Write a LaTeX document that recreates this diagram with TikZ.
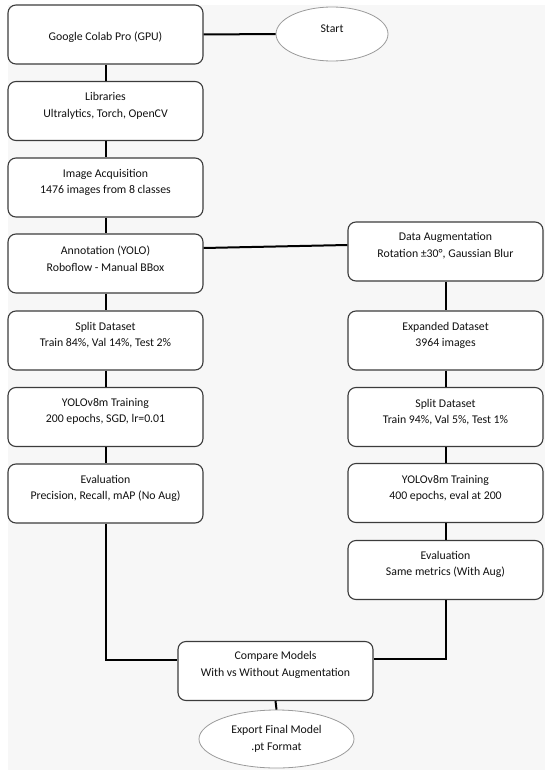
\documentclass[tikz,border=0pt]{standalone}
\usepackage{fontspec}
\setmainfont{Carlito}
\usetikzlibrary{shapes.geometric}
\definecolor{bgcol}{HTML}{F7F7F7}
\definecolor{boxgray}{HTML}{3C3C3C}
\definecolor{ovalgray}{HTML}{9A9A9A}
\definecolor{txtcol}{HTML}{111111}
\tikzset{
  box/.style={draw=boxgray, line width=1.1bp, fill=white, rounded corners=8bp,
    minimum width=195bp, minimum height=59bp, inner sep=0pt},
  oval/.style={ellipse, draw=ovalgray, line width=0.8bp, fill=white, inner sep=0pt},
  txt/.style={align=center, inner sep=0pt, text=txtcol,
    font=\fontsize{11.8bp}{16.5bp}\selectfont},
  conn/.style={line width=2bp, black}
}
\begin{document}
\begin{tikzpicture}[x=1bp,y=-1bp]
\useasboundingbox (0,0) rectangle (550,775);
\fill[bgcol] (8,5) rectangle (545,770);
% left column
\node[box] (g)   at (105.5,34.5) {};
\node[box] (lib) at (105.5,111) {};
\node[box] (acq) at (105.5,187.5) {};
\node[box] (ann) at (105.5,263.5) {};
\node[box] (spl) at (105.5,340.5) {};
\node[box] (yol) at (105.5,417) {};
\node[box] (ev)  at (105.5,493.5) {};
% right column
\node[box] (da)  at (445.5,251.5) {};
\node[box] (ex)  at (445.5,340.5) {};
\node[box] (sp2) at (445.5,417) {};
\node[box] (yo2) at (445.5,493) {};
\node[box] (ev2) at (445.5,570) {};
% bottom
\node[box] (cmp) at (275.5,671) {};
\node[oval, minimum width=112bp, minimum height=54bp] (st) at (332,34) {};
\node[oval, minimum width=155bp, minimum height=58bp] (exp) at (276.5,739) {};
% connectors
\draw[conn] (g.east) -- (st.west);
\draw[conn] (g) -- (lib);
\draw[conn] (lib) -- (acq);
\draw[conn] (acq) -- (ann);
\draw[conn] (ann) -- (spl);
\draw[conn] (spl) -- (yol);
\draw[conn] (yol) -- (ev);
\draw[conn] ([yshift=15.5bp]ann.east) -- ([yshift=6.5bp]da.west);
\draw[conn] (da) -- (ex);
\draw[conn] (ex) -- (sp2);
\draw[conn] (sp2) -- (yo2);
\draw[conn] (yo2) -- (ev2);
\draw[conn] (ev.south) |- ([yshift=11bp]cmp.west);
\draw[conn] (ev2.south) |- ([yshift=12bp]cmp.east);
\draw[conn] (cmp.south) -- (exp.north);
% texts
\node[txt] (tst)  at (332,28.5) {Start};
\node[txt] (tg)   at (105.5,37) {Google Colab Pro (GPU)};
\node[txt] (tlib) at (105.5,106) {Libraries\\Ultralytics, Torch, OpenCV};
\node[txt] (tacq) at (105.5,182.5) {Image Acquisition\\1476 images from 8 classes};
\node[txt] (tann) at (105.5,258.5) {Annotation (YOLO)\\Roboflow - Manual BBox};
\node[txt] (tspl) at (105.5,335) {Split Dataset\\Train 84\%, Val 14\%, Test 2\%};
\node[txt] (tyol) at (105.5,411.5) {YOLOv8m Training\\200 epochs, SGD, lr=0.01};
\node[txt] (tev)  at (105.5,488.5) {Evaluation\\Precision, Recall, mAP (No Aug)};
\node[txt] (tda)  at (445.5,245.5) {Data Augmentation\\Rotation ±30°, Gaussian Blur};
\node[txt] (tex)  at (445.5,335.5) {Expanded Dataset\\3964 images};
\node[txt] (tsp2) at (445.5,412) {Split Dataset\\Train 94\%, Val 5\%, Test 1\%};
\node[txt] (tyo2) at (445.5,488.5) {YOLOv8m Training\\400 epochs, eval at 200};
\node[txt] (tev2) at (445.5,564.5) {Evaluation\\Same metrics (With Aug)};
\node[txt] (tcmp) at (275.5,665) {Compare Models\\With vs Without Augmentation};
\node[txt] (texp) at (276.5,739) {Export Final Model\\.pt Format};
\end{tikzpicture}
\end{document}
